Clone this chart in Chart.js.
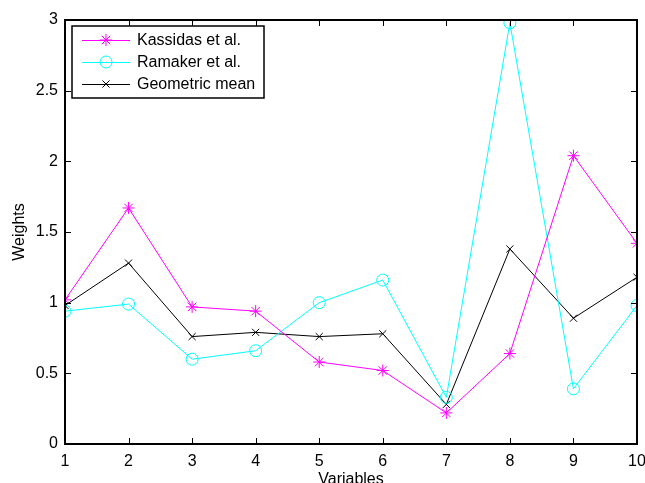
<!DOCTYPE html>
<html>
<head>
<meta charset="utf-8">
<script src="https://cdn.jsdelivr.net/npm/chart.js@4/dist/chart.umd.min.js"></script>
<style>
  html, body { margin: 0; padding: 0; background: #fff; }
  #wrap { width: 645px; height: 483px; position: relative; }
</style>
</head>
<body>
<div id="wrap"><canvas id="weightsChart"></canvas></div>
<script>
// values
const variables = [1, 2, 3, 4, 5, 6, 7, 8, 9, 10];
const kassidas = [1.02, 1.67, 0.97, 0.94, 0.58, 0.52, 0.22, 0.64, 2.04, 1.42];
const ramaker = [0.94, 0.99, 0.60, 0.66, 1.00, 1.16, 0.33, 2.98, 0.39, 0.98];
const geoMean = [0.98, 1.28, 0.76, 0.79, 0.76, 0.78, 0.28, 1.38, 0.89, 1.18];
const yTicks = [0, 0.5, 1, 1.5, 2, 2.5, 3];

const FONT = 'Liberation Sans, Arial, Helvetica, sans-serif';
const FSIZE = 16;

function toPoints(vals) {
    return variables.map((v, i) => ({ x: v, y: vals[i] }));
}

// matlab-ish box with inward ticks on all four sides
const boxPlugin = {
    id: 'boxFrame',
    afterDatasetsDraw(chart) {
        const { ctx, chartArea: a, scales } = chart;
        const len = 6;
        ctx.save();
        ctx.strokeStyle = '#000';
        ctx.lineWidth = 1;
        ctx.beginPath();
        variables.forEach(v => {
            const px = Math.round(scales.x.getPixelForValue(v)) + 0.5;
            ctx.moveTo(px, a.bottom); ctx.lineTo(px, a.bottom - len);
            ctx.moveTo(px, a.top); ctx.lineTo(px, a.top + len);
        });
        yTicks.forEach(v => {
            const py = Math.round(scales.y.getPixelForValue(v)) + 0.5;
            ctx.moveTo(a.left, py); ctx.lineTo(a.left + len, py);
            ctx.moveTo(a.right, py); ctx.lineTo(a.right - len, py);
        });
        ctx.stroke();
        ctx.lineWidth = 2;
        ctx.strokeRect(Math.round(a.left), Math.round(a.top),
            Math.round(a.right - a.left), Math.round(a.bottom - a.top));
        ctx.restore();
    }
};

// legend box in the top left corner
const legendPlugin = {
    id: 'boxLegend',
    afterDraw(chart) {
        const { ctx, chartArea: a } = chart;
        const x0 = Math.round(a.left) + 7, y0 = Math.round(a.top) + 6;
        const w = 192, h = 72, rowH = 22;
        ctx.save();
        ctx.fillStyle = '#fff';
        ctx.fillRect(x0, y0, w, h);
        ctx.strokeStyle = '#000';
        ctx.lineWidth = 1.5;
        ctx.strokeRect(x0, y0, w, h);
        chart.data.datasets.forEach((ds, i) => {
            const cy = y0 + 14 + i * rowH;
            ctx.strokeStyle = ds.borderColor;
            ctx.lineWidth = 1;
            ctx.beginPath();
            ctx.moveTo(x0 + 10, cy + 0.5);
            ctx.lineTo(x0 + 58, cy + 0.5);
            ctx.stroke();
            ctx.fillStyle = 'rgba(0,0,0,0)';
            Chart.helpers.drawPoint(ctx, {
                pointStyle: ds.pointStyle,
                radius: ds.pointRadius,
                borderWidth: 1
            }, x0 + 34, cy);
            ctx.fillStyle = '#000';
            ctx.font = FSIZE + 'px ' + FONT;
            ctx.textBaseline = 'middle';
            ctx.fillText(ds.label, x0 + 65, cy + 1);
        });
        ctx.restore();
    }
};

new Chart(document.getElementById('weightsChart'), {
    type: 'line',
    data: {
        datasets: [
            {
                label: 'Kassidas et al.',
                data: toPoints(kassidas),
                borderColor: '#ff00ff',
                backgroundColor: 'rgba(0,0,0,0)',
                pointStyle: 'star',
                pointRadius: 6,
                pointBorderWidth: 1,
                borderWidth: 1
            },
            {
                label: 'Ramaker et al.',
                data: toPoints(ramaker),
                borderColor: '#00ffff',
                backgroundColor: 'rgba(0,0,0,0)',
                pointStyle: 'circle',
                pointRadius: 6,
                pointBorderWidth: 1,
                borderWidth: 1
            },
            {
                label: 'Geometric mean',
                data: toPoints(geoMean),
                borderColor: '#000000',
                backgroundColor: 'rgba(0,0,0,0)',
                pointStyle: 'crossRot',
                pointRadius: 5,
                pointBorderWidth: 1,
                borderWidth: 1
            }
        ]
    },
    options: {
        responsive: true,
        maintainAspectRatio: false,
        animation: false,
        layout: { padding: { top: 20, right: 8, left: 0, bottom: 0 } },
        plugins: {
            legend: { display: false },
            tooltip: { enabled: false }
        },
        elements: { line: { tension: 0 } },
        scales: {
            x: {
                type: 'linear',
                min: 1,
                max: 10,
                grid: { display: false, drawTicks: false },
                border: { display: false },
                afterFit: (s) => { s.height = 39; s.paddingRight = 0; s.paddingLeft = 0; },
                ticks: {
                    stepSize: 1,
                    color: '#000',
                    padding: 8,
                    autoSkip: false,
                    maxRotation: 0,
                    font: { family: FONT, size: FSIZE }
                },
                title: {
                    display: true,
                    text: 'Variables',
                    color: '#000',
                    padding: { top: 0, bottom: -6 },
                    font: { family: FONT, size: FSIZE }
                }
            },
            y: {
                min: 0,
                max: 3,
                grid: { display: false, drawTicks: false },
                border: { display: false },
                afterFit: (s) => { s.width = 65; s.paddingTop = 0; s.paddingBottom = 0; },
                afterBuildTicks: (s) => { s.ticks = yTicks.map(v => ({ value: v })); },
                ticks: {
                    color: '#000',
                    padding: 7,
                    font: { family: FONT, size: FSIZE },
                    callback: (v) => String(v)
                },
                title: {
                    display: true,
                    text: 'Weights',
                    color: '#000',
                    padding: { top: 10, bottom: 0 },
                    font: { family: FONT, size: FSIZE }
                }
            }
        }
    },
    plugins: [boxPlugin, legendPlugin]
});
</script>
</body>
</html>
